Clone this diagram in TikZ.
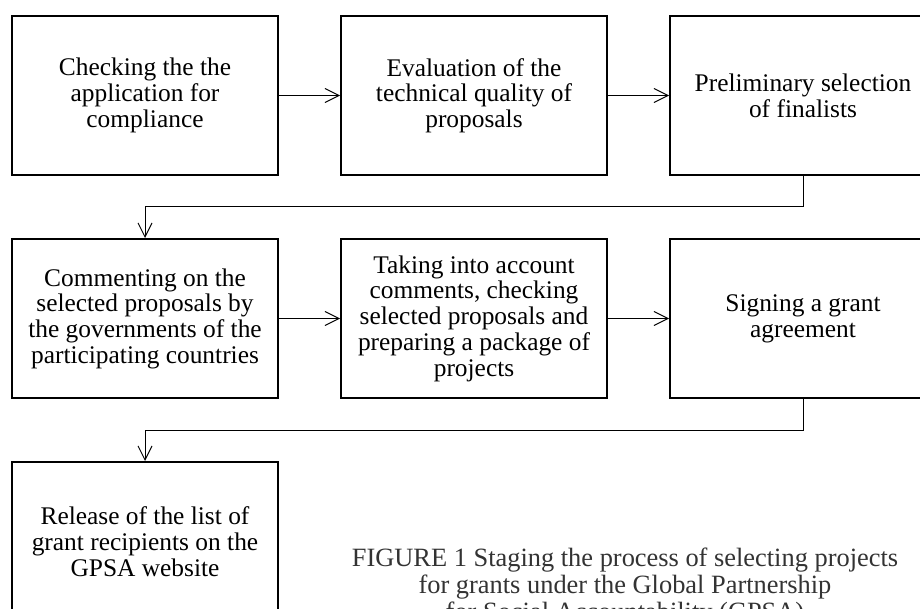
\documentclass[tikz,border=0pt]{standalone}
\usepackage{fontspec}
\setmainfont{Liberation Serif}
\usetikzlibrary{arrows.meta,positioning}

\begin{document}
\begin{tikzpicture}[x=1pt, y=1pt, node distance=31pt and 30.5pt, every node/.style={font=\fontsize{12.7}{12.85}\selectfont}]
\tikzset{stage/.style={draw, line width=1pt, minimum width=133pt, minimum height=79.5pt, inner sep=2pt, align=center}}
\tikzset{arrow/.style={-{Straight Barb[length=7pt, width=7pt]}, line width=0.5pt}}
\tikzset{caption/.style={font=\fontsize{13.2}{13.3}\selectfont, text=black!80, align=center, inner sep=0pt}}
\useasboundingbox (0,0) rectangle (460,-304.5);
\clip (0,0) rectangle (460,-304.5);
% first row
\node[stage, anchor=north west] (check) at (5.5,-7.5) {Checking the the\\application for\\compliance};
\node[stage, right=of check] (evaluate) {Evaluation of the\\technical quality of\\proposals};
\node[stage, right=of evaluate] (prelim) {Preliminary selection\\of finalists};
% second row
\node[stage, below=of check] (comment) {Commenting on the\\selected proposals by\\the governments of the\\participating countries};
\node[stage, right=of comment] (package) {Taking into account\\comments, checking\\selected proposals and\\preparing a package of\\projects};
\node[stage, right=of package] (sign) {Signing a grant\\agreement};
% third row
\node[stage, below=of comment] (release) {Release of the list of\\grant recipients on the\\GPSA website};
\node[caption, anchor=north] (fig) at (312.5,-274) {FIGURE 1 Staging the process of selecting projects\\for grants under the Global Partnership\\for Social Accountability (GPSA)};
\draw[arrow] (check) -- (evaluate);
\draw[arrow] (evaluate) -- (prelim);
\draw[arrow] (prelim.south) -- ++(0,-15.5) -| (comment.north);
\draw[arrow] (comment) -- (package);
\draw[arrow] (package) -- (sign);
\draw[arrow] (sign.south) -- ++(0,-15.5) -| (release.north);
\end{tikzpicture}
\end{document}
